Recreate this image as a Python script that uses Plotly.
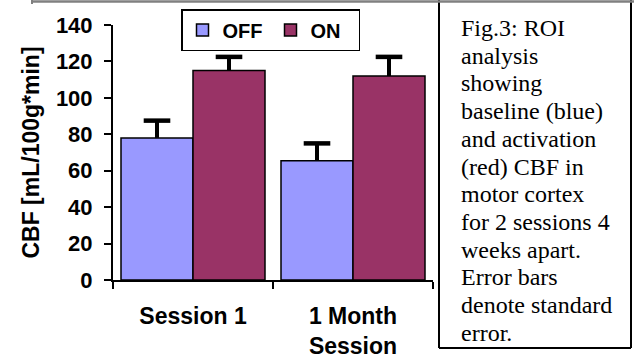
import plotly.graph_objects as go

# ---- data ----
categories = ["Session 1", "1 Month<br>Session"]
off_values = [78, 65.5]
on_values = [115, 112]
off_errors = [9.5, 9.5]
on_errors = [7.5, 10.5]
series_names = ["OFF", "ON"]
y_tick_values = [0, 20, 40, 60, 80, 100, 120, 140]
y_title = "CBF [mL/100g*min]"
caption_lines = [
    "Fig.3: ROI", "analysis", "showing", "baseline (blue)", "and activation",
    "(red) CBF in", "motor cortex", "for 2 sessions 4", "weeks apart.",
    "Error bars", "denote standard", "error.",
]

W, H = 634, 358
L, R, T, B = 113, 201, 25, 78
PW, PH = W - L - R, H - T - B

def px(x):
    return (x - L) / PW

def py(y):
    return (H - B - y) / PH

SANS = "Liberation Sans, Arial, sans-serif"
SERIF = "Liberation Serif, Times New Roman, serif"
colors = ["#9999FF", "#993366"]

fig = go.Figure()
for name, vals, errs, col in zip(series_names, [off_values, on_values],
                                 [off_errors, on_errors], colors):
    fig.add_trace(go.Bar(
        name=name, x=categories, y=vals,
        marker=dict(color=col, line=dict(color="black", width=1.5)),
        error_y=dict(type="data", symmetric=False, array=errs,
                     arrayminus=[0] * len(errs), color="black",
                     thickness=4, width=0),
    ))
# error-bar caps (top only)
for name, vals, errs in zip(series_names, [off_values, on_values],
                            [off_errors, on_errors]):
    fig.add_trace(go.Scatter(
        x=categories, y=[v + e for v, e in zip(vals, errs)],
        mode="markers", showlegend=False, hoverinfo="skip",
        marker=dict(symbol="line-ew-open", size=19, color="black",
                    line=dict(color="black", width=4.5)),
    ))

# caption lines
top_c, step = 28, 27.7
for i, line in enumerate(caption_lines):
    fig.add_annotation(
        text=line, xref="paper", yref="paper",
        x=px(459), y=py(top_c + i * step),
        xanchor="left", yanchor="middle", showarrow=False,
        font=dict(family=SERIF, size=24, color="black"),
    )

# caption box (left, right, bottom) and gray top rule
for (x0, y0, x1, y1) in [
    (439, 0, 439, 348),
    (631, 0, 631, 348),
    (439, 348, 631, 348),
]:
    fig.add_shape(type="line", xref="paper", yref="paper",
                  x0=px(x0), y0=py(y0), x1=px(x1), y1=py(y1),
                  line=dict(color="black", width=2))
fig.add_shape(type="line", xref="paper", yref="paper",
              x0=px(32), y0=py(1.5), x1=px(634), y1=py(1.5),
              line=dict(color="#808080", width=2.5))
fig.add_shape(type="line", xref="paper", yref="paper",
              x0=px(32), y0=py(0), x1=px(32), y1=py(4),
              line=dict(color="#808080", width=2))

fig.update_layout(
    width=W, height=H,
    margin=dict(l=L, r=R, t=T, b=B, autoexpand=False),
    paper_bgcolor="white", plot_bgcolor="white",
    barmode="group", bargap=0.1, bargroupgap=0,
    scattermode="group", scattergap=0.1,
    font=dict(family=SANS, color="black"),
    showlegend=True,
    legend=dict(
        orientation="h", x=px(181), y=py(9), xanchor="left", yanchor="top",
        bgcolor="white", bordercolor="black", borderwidth=1.5,
        font=dict(family=SANS, size=20, weight="bold", color="black"),
        entrywidth=43, itemwidth=30,
        tracegroupgap=0,
    ),
    xaxis=dict(
        showline=True, linecolor="black", linewidth=2,
        ticks="outside", ticklen=7, tickcolor="black", tickwidth=2,
        tickson="boundaries", showgrid=False,
        tickfont=dict(family=SANS, size=23, weight="bold", color="black"),
        ticklabelstandoff=14,
    ),
    yaxis=dict(
        range=[0, 140], tickvals=y_tick_values,
        showline=True, linecolor="black", linewidth=2,
        ticks="outside", ticklen=7, tickcolor="black", tickwidth=2,
        showgrid=False, zeroline=False, automargin=False,
        tickfont=dict(family=SANS, size=22, weight="bold", color="black"),
        ticklabelstandoff=7,
        title=dict(text=y_title, standoff=10,
                   font=dict(family=SANS, size=23, weight="bold", color="black")),
    ),
)

fig.write_html("out.html", config={"displayModeBar": False},
               post_script="document.body.style.margin='0';")
